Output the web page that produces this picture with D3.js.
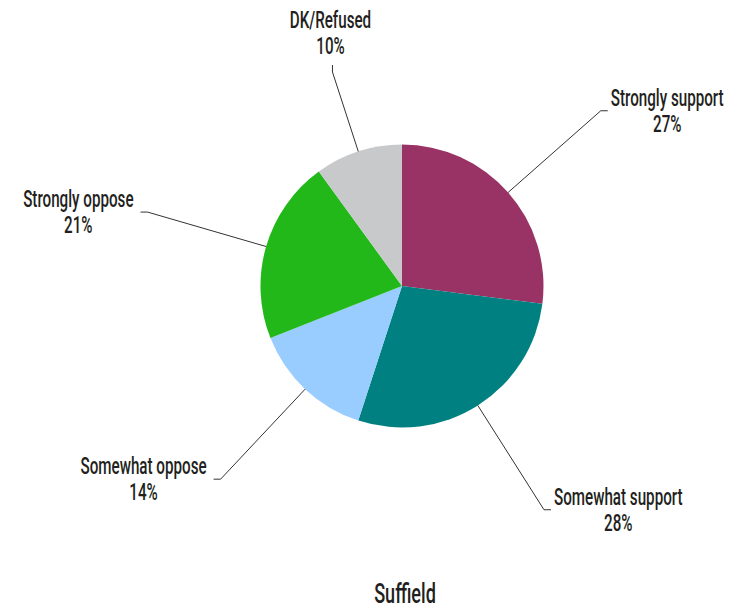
<!DOCTYPE html>
<html>
<head>
<meta charset="utf-8">
<script src="https://cdn.jsdelivr.net/npm/d3@7"></script>
<style>
  html, body { margin: 0; padding: 0; background: #fff; }
  svg text { font-family: "Roboto", "Liberation Sans", sans-serif; font-weight: 500; fill: #231f20; }
</style>
</head>
<body>
<svg id="chart" width="732" height="609"></svg>
<script>
const categories = ["Strongly support", "Somewhat support", "Somewhat oppose", "Strongly oppose", "DK/Refused"];
const values = [27, 28, 14, 21, 10];
const valueLabels = ["27%", "28%", "14%", "21%", "10%"];
const colors = ["#993366", "#008080", "#99ccff", "#22b81a", "#c8c9cb"];
const title = "Suffield";

const W = 732, H = 609;
const cx = 402, cy = 286, R = 141.5;
const elbowR = 265, minElbowY = 72, tailLen = 7;
const fontSize = 23.5, lineGap = 26;

const svg = d3.select("#chart");
const g = svg.append("g").attr("transform", `translate(${cx},${cy})`);

const data = categories.map((c, i) => ({ cat: c, value: values[i], label: valueLabels[i], color: colors[i] }));
const pie = d3.pie().value(d => d.value).sort(null);
const arcs = pie(data);
const arc = d3.arc().innerRadius(0).outerRadius(R);

g.selectAll("path.slice").data(arcs).join("path")
  .attr("class", "slice")
  .attr("d", arc)
  .attr("fill", d => d.data.color);

// condensing factor: measure a reference string and scale to the target width
const probe = svg.append("text").attr("font-size", fontSize).text("Strongly support");
const kx = 113 / probe.node().getComputedTextLength();
probe.remove();

arcs.forEach(a => {
  const mid = (a.startAngle + a.endAngle) / 2;
  const sx = Math.sin(mid), sy = -Math.cos(mid);
  const p0 = [R * sx, R * sy];
  let r = elbowR;
  if (cy + r * sy < minElbowY) r = (cy - minElbowY) / -sy;
  const p1 = [r * sx, r * sy];
  let p2, mode;
  if (cy + p1[1] <= minElbowY + 1 && Math.abs(sx) < 0.5) { p2 = [p1[0], p1[1] - tailLen]; mode = "top"; }
  else if (sx >= 0) { p2 = [p1[0] + tailLen, p1[1]]; mode = "right"; }
  else { p2 = [p1[0] - tailLen, p1[1]]; mode = "left"; }

  g.append("polyline")
    .attr("points", [p0, p1, p2].map(p => p.join(",")).join(" "))
    .attr("fill", "none").attr("stroke", "#333").attr("stroke-width", 1);

  const lg = g.append("g");
  const inner = lg.append("g").attr("transform", `scale(${kx},1)`);
  const t1 = inner.append("text").attr("font-size", fontSize).attr("text-anchor", "middle").text(a.data.cat);
  const t2 = inner.append("text").attr("font-size", fontSize).attr("text-anchor", "middle").text(a.data.label);
  const w = Math.max(t1.node().getComputedTextLength(), t2.node().getComputedTextLength()) * kx;
  let bx, by1;
  if (mode === "right") { bx = p2[0] + 3 + w / 2; by1 = p2[1] - 5; }
  else if (mode === "left") { bx = p2[0] - 7 - w / 2; by1 = p2[1] - 5; }
  else { bx = p2[0] - 2; by1 = p2[1] - 11 - lineGap; }
  lg.attr("transform", `translate(${bx},${by1})`);
  t2.attr("y", lineGap);
});

svg.append("text")
  .attr("transform", `translate(405,603) scale(${kx},1)`)
  .attr("text-anchor", "middle")
  .attr("font-size", 28)
  .text(title);
</script>
</body>
</html>
